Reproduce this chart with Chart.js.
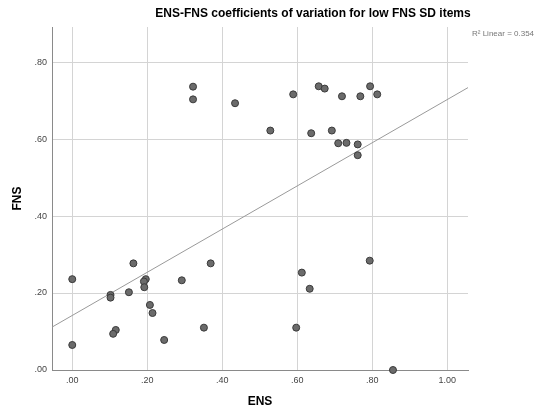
<!DOCTYPE html>
<html>
<head>
<meta charset="utf-8">
<script src="https://cdn.jsdelivr.net/npm/chart.js@4.4.1/dist/chart.umd.min.js"></script>
<style>
  html, body { margin: 0; padding: 0; background: #fff; }
  #wrap { width: 547px; height: 413px; position: relative; }
</style>
</head>
<body>
<div id="wrap"><canvas id="c" width="547" height="413"></canvas></div>
<script>
// ---- data ----
const ensValues = [0.000, 0.000, 0.163, 0.102, 0.102, 0.151, 0.196, 0.191, 0.192, 0.207,
                   0.214, 0.116, 0.109, 0.245, 0.292, 0.351, 0.369, 0.322, 0.322, 0.434,
                   0.528, 0.589, 0.657, 0.673, 0.637, 0.692, 0.719, 0.709, 0.731, 0.768,
                   0.794, 0.813, 0.761, 0.761, 0.612, 0.633, 0.597, 0.793, 0.855];
const fnsValues = [0.236, 0.065, 0.277, 0.195, 0.188, 0.202, 0.236, 0.230, 0.215, 0.169,
                   0.148, 0.104, 0.094, 0.078, 0.233, 0.110, 0.277, 0.736, 0.703, 0.693,
                   0.622, 0.716, 0.737, 0.731, 0.615, 0.622, 0.711, 0.589, 0.590, 0.711,
                   0.737, 0.716, 0.586, 0.558, 0.253, 0.211, 0.110, 0.284, 0.000];
const xTickValues = [0, 0.2, 0.4, 0.6, 0.8, 1.0];
const xTickLabels = ['.00', '.20', '.40', '.60', '.80', '1.00'];
const yTickValues = [0, 0.2, 0.4, 0.6, 0.8];
const yTickLabels = ['.00', '.20', '.40', '.60', '.80'];
const chartTitle = 'ENS-FNS coefficients of variation for low FNS SD items';
const xTitle = 'ENS';
const yTitle = 'FNS';
const r2Label = 'R\u00B2 Linear = 0.354';

// axis extents
const X_MIN = -0.054, X_MAX = 1.055, Y_MIN = 0, Y_MAX = 0.891;

// least-squares fit line (as SPSS draws)
const n = ensValues.length;
const mx = ensValues.reduce((a, b) => a + b, 0) / n;
const my = fnsValues.reduce((a, b) => a + b, 0) / n;
let sxy = 0, sxx = 0;
for (let i = 0; i < n; i++) { sxy += (ensValues[i] - mx) * (fnsValues[i] - my); sxx += (ensValues[i] - mx) ** 2; }
const slope = sxy / sxx, intercept = my - slope * mx;
const fitLine = [X_MIN, X_MAX].map(x => ({ x, y: intercept + slope * x }));

const points = ensValues.map((x, i) => ({ x, y: fnsValues[i] }));

const FONT = '"Liberation Sans", Arial, sans-serif';

const textPlugin = {
  id: 'texts',
  afterDraw(chart) {
    const ctx = chart.ctx;
    const ca = chart.chartArea;
    ctx.save();
    ctx.fillStyle = '#000';
    ctx.font = 'bold 12px ' + FONT;
    ctx.textAlign = 'center';
    ctx.textBaseline = 'middle';
    ctx.fillText(chartTitle, 313, 14);
    ctx.font = 'bold 12px ' + FONT;
    ctx.fillText(xTitle, (ca.left + ca.right) / 2, 402);
    ctx.save();
    ctx.translate(18, (ca.top + ca.bottom) / 2);
    ctx.rotate(-Math.PI / 2);
    ctx.fillText(yTitle, 0, 0);
    ctx.restore();
    ctx.font = '8px ' + FONT;
    ctx.fillStyle = '#777';
    ctx.textAlign = 'left';
    ctx.fillText(r2Label, 472, 34);
    ctx.restore();
  }
};

new Chart(document.getElementById('c'), {
  type: 'scatter',
  data: {
    datasets: [
      {
        type: 'line',
        data: fitLine,
        borderColor: '#9a9a9a',
        borderWidth: 1,
        pointRadius: 0,
        fill: false,
        order: 2
      },
      {
        data: points,
        backgroundColor: '#6b6b6b',
        borderColor: '#3a3a3a',
        borderWidth: 1,
        pointRadius: 3.5,
        pointHoverRadius: 3.5,
        clip: false,
        order: 1
      }
    ]
  },
  options: {
    responsive: false,
    animation: false,
    devicePixelRatio: 1,
    layout: { padding: { top: 27, right: 79, left: 0, bottom: 0 } },
    plugins: { legend: { display: false }, tooltip: { enabled: false }, title: { display: false } },
    scales: {
      x: {
        type: 'linear',
        min: X_MIN, max: X_MAX,
        afterFit(s) { s.height = 43; },
        afterBuildTicks(s) { s.ticks = xTickValues.map(v => ({ value: v })); },
        ticks: {
          callback: (v) => { const i = xTickValues.findIndex(t => Math.abs(t - v) < 1e-6); return i >= 0 ? xTickLabels[i] : ''; },
          font: { size: 9, family: FONT },
          color: '#444',
          padding: 5,
          maxRotation: 0,
          autoSkip: false
        },
        grid: { color: '#d4d4d4', lineWidth: 1, drawTicks: false },
        border: { color: '#8a8a8a', width: 1 }
      },
      y: {
        type: 'linear',
        min: Y_MIN, max: Y_MAX,
        afterFit(s) { s.width = 52; },
        afterBuildTicks(s) { s.ticks = yTickValues.map(v => ({ value: v })); },
        ticks: {
          callback: (v) => { const i = yTickValues.findIndex(t => Math.abs(t - v) < 1e-6); return i >= 0 ? yTickLabels[i] : ''; },
          font: { size: 9, family: FONT },
          color: '#444',
          padding: 5,
          autoSkip: false
        },
        grid: { color: '#d4d4d4', lineWidth: 1, drawTicks: false },
        border: { color: '#8a8a8a', width: 1 }
      }
    }
  },
  plugins: [textPlugin]
});
</script>
</body>
</html>
